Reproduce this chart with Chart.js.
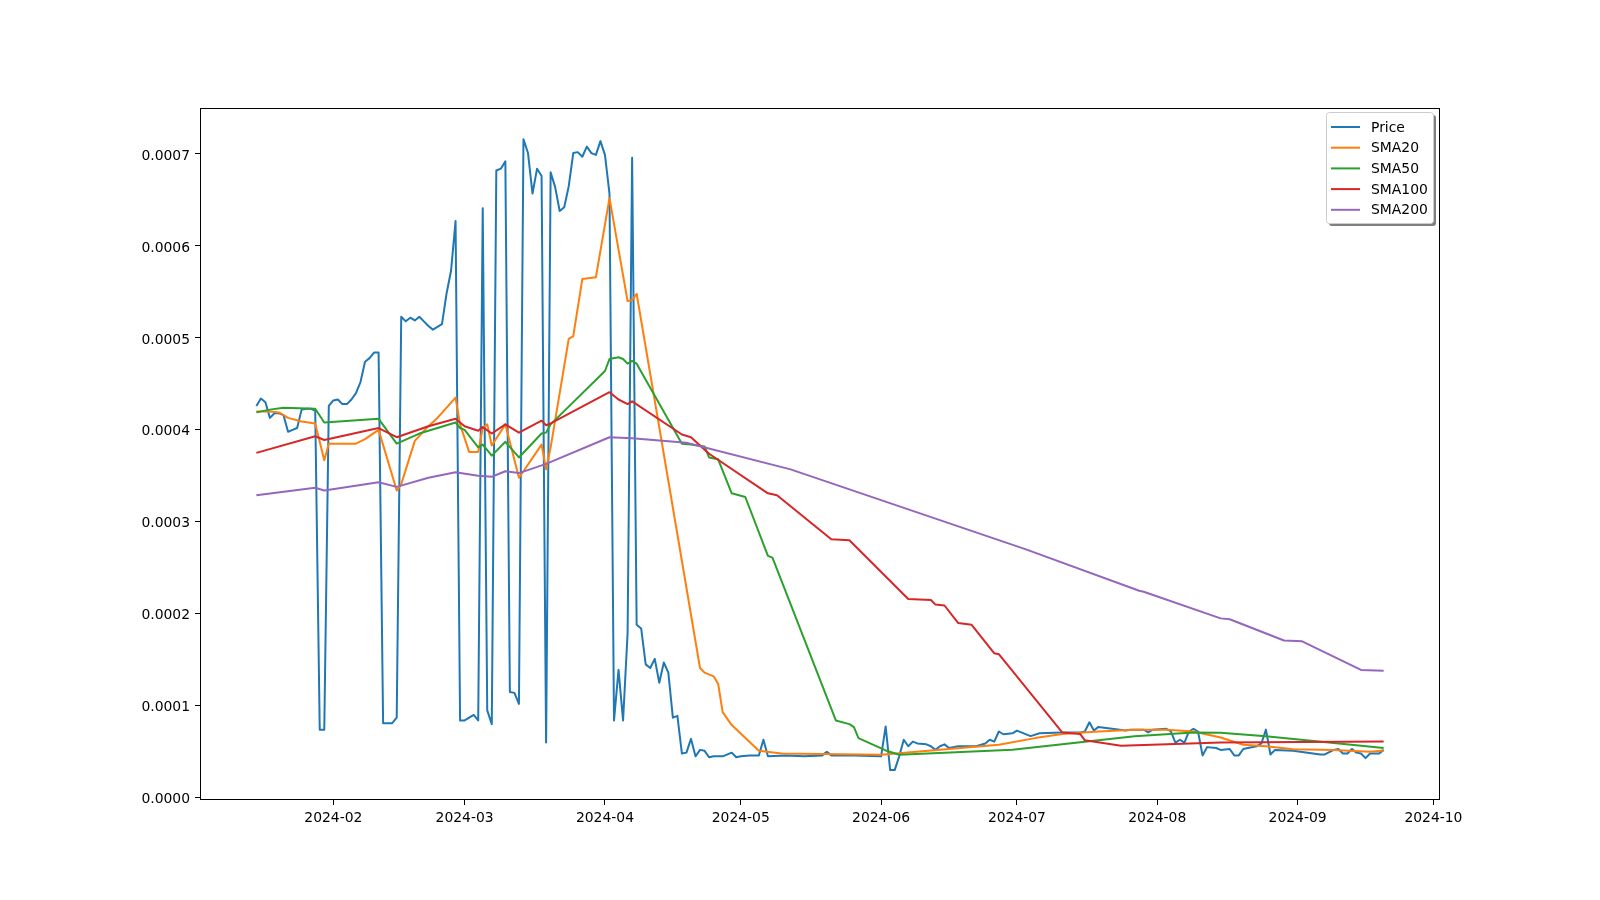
<!DOCTYPE html>
<html>
<head>
<meta charset="utf-8">
<script src="https://cdn.jsdelivr.net/npm/chart.js@4.4.1/dist/chart.umd.min.js"></script>
<style>
  html, body { margin: 0; padding: 0; background: #fff; }
</style>
</head>
<body>
<canvas id="smaChart" width="1600" height="900"></canvas>
<script>
// price, one value per listed day
const priceDates = [
  '2024-01-15','2024-01-16','2024-01-17','2024-01-18','2024-01-19','2024-01-20','2024-01-21','2024-01-22','2024-01-23','2024-01-24','2024-01-25','2024-01-26','2024-01-27','2024-01-28','2024-01-29','2024-01-30','2024-01-31',
  '2024-02-01','2024-02-02','2024-02-03','2024-02-04','2024-02-05','2024-02-06','2024-02-07','2024-02-08','2024-02-09','2024-02-10','2024-02-11','2024-02-12','2024-02-13','2024-02-14','2024-02-15','2024-02-16','2024-02-17','2024-02-18','2024-02-19','2024-02-20','2024-02-21','2024-02-22','2024-02-23','2024-02-24','2024-02-25','2024-02-26','2024-02-27','2024-02-28','2024-02-29',
  '2024-03-01','2024-03-02','2024-03-03','2024-03-04','2024-03-05','2024-03-06','2024-03-07','2024-03-08','2024-03-09','2024-03-10','2024-03-11','2024-03-12','2024-03-13','2024-03-14','2024-03-15','2024-03-16','2024-03-17','2024-03-18','2024-03-19','2024-03-20','2024-03-21','2024-03-22','2024-03-23','2024-03-24','2024-03-25','2024-03-26','2024-03-27','2024-03-28','2024-03-29','2024-03-30','2024-03-31',
  '2024-04-01','2024-04-02','2024-04-03','2024-04-04','2024-04-05','2024-04-06','2024-04-07','2024-04-08','2024-04-09','2024-04-10','2024-04-11','2024-04-12','2024-04-13','2024-04-14','2024-04-15','2024-04-16','2024-04-17','2024-04-18','2024-04-19','2024-04-20','2024-04-21','2024-04-22','2024-04-23','2024-04-24','2024-04-25','2024-04-27','2024-04-29','2024-04-30',
  '2024-05-01','2024-05-03','2024-05-05','2024-05-06','2024-05-07','2024-05-11','2024-05-15','2024-05-19','2024-05-20','2024-05-21','2024-05-26',
  '2024-06-01','2024-06-02','2024-06-03','2024-06-04','2024-06-05','2024-06-06','2024-06-07','2024-06-08','2024-06-09','2024-06-11','2024-06-12','2024-06-13','2024-06-14','2024-06-15','2024-06-16','2024-06-18','2024-06-22','2024-06-24','2024-06-25','2024-06-26','2024-06-27','2024-06-28','2024-06-30',
  '2024-07-01','2024-07-04','2024-07-06','2024-07-11','2024-07-15','2024-07-16','2024-07-17','2024-07-18','2024-07-19','2024-07-22','2024-07-25','2024-07-26','2024-07-29','2024-07-30','2024-07-31',
  '2024-08-03','2024-08-04','2024-08-05','2024-08-06','2024-08-07','2024-08-08','2024-08-09','2024-08-10','2024-08-11','2024-08-12','2024-08-14','2024-08-15','2024-08-17','2024-08-18','2024-08-19','2024-08-20','2024-08-21','2024-08-23','2024-08-24','2024-08-25','2024-08-26','2024-08-27','2024-08-31',
  '2024-09-06','2024-09-07','2024-09-09','2024-09-10','2024-09-11','2024-09-12','2024-09-13','2024-09-14','2024-09-15','2024-09-16','2024-09-17','2024-09-19','2024-09-20'
];
const priceValues = [
  0.000426,0.000434,0.00043,0.000413,0.000418,0.000418,0.000416,0.000398,0.0004,0.000402,0.000422,0.000423,0.000423,0.000421,0.000074,0.000074,0.000426,
  0.000432,0.000433,0.000428,0.000428,0.000433,0.00044,0.000452,0.000474,0.000478,0.000484,0.000484,0.000081,0.000081,0.000081,0.000087,0.000523,0.000518,0.000522,0.000519,0.000523,0.000518,0.000513,0.000509,0.000512,0.000515,0.000548,0.000573,0.000627,0.000084,
  0.000084,0.000087,0.00009,0.000084,0.000641,0.000095,0.00008,0.000682,0.000684,0.000692,0.000115,0.000114,0.000102,0.000716,0.000701,0.000657,0.000684,0.000676,0.00006,0.00068,0.000664,0.000638,0.000642,0.000665,0.000701,0.000702,0.000697,0.000708,0.000701,0.000699,0.000714,
  0.000699,0.000657,0.000084,0.000139,0.000084,0.000179,0.000696,0.000188,0.000184,0.000145,0.000141,0.000151,0.000125,0.000147,0.000136,0.000087,0.000089,0.000048,0.000049,0.000064,0.000045,0.000052,0.000051,0.000044,0.000045,0.000045,0.000049,0.000044,
  0.000045,0.000046,0.000046,0.000063,0.000045,0.000046,0.000045,0.000046,0.00005,0.000046,0.000046,
  0.000045,0.0000775,0.00003,0.00003,0.000045,0.000063,0.000056,0.000061,0.000059,0.000058,0.000056,0.000052,0.000056,0.000058,0.000054,0.000056,0.000056,0.000059,0.000063,0.000061,0.000072,0.000069,0.00007,
  0.000073,0.000067,0.00007,0.000071,0.000071,0.000072,0.000082,0.000073,0.000077,0.000075,0.000073,0.000074,0.000074,0.000071,0.000074,
  0.000075,0.000072,0.00006,0.000063,0.00006,0.000072,0.000075,0.000072,0.000046,0.000055,0.000054,0.000052,0.000053,0.000046,0.000046,0.000053,0.000054,0.000056,0.000059,0.000074,0.000047,0.000052,0.000051,
  0.000047,0.000047,0.000052,0.000053,0.000048,0.000048,0.000053,0.000049,0.000048,0.000043,0.000048,0.000048,0.000052
];

const sma20Dates = [
  '2024-01-15','2024-01-18','2024-01-20','2024-01-22','2024-01-25','2024-01-28','2024-01-30','2024-01-31',
  '2024-02-06','2024-02-08','2024-02-11','2024-02-15','2024-02-16','2024-02-19','2024-02-22','2024-02-24','2024-02-28','2024-02-29',
  '2024-03-02','2024-03-04','2024-03-05','2024-03-06','2024-03-07','2024-03-10','2024-03-13','2024-03-14','2024-03-18','2024-03-19','2024-03-20','2024-03-24','2024-03-25','2024-03-27','2024-03-30',
  '2024-04-02','2024-04-06','2024-04-07','2024-04-08','2024-04-22','2024-04-23','2024-04-25','2024-04-26','2024-04-27','2024-04-29',
  '2024-05-05','2024-05-10','2024-06-01','2024-06-27','2024-07-05','2024-07-11','2024-07-19','2024-07-27',
  '2024-08-03','2024-08-09','2024-08-15','2024-08-20','2024-08-25','2024-08-31','2024-09-09','2024-09-17','2024-09-20'
];
const sma20Values = [
  0.00042,0.00042,0.000419,0.000413,0.000409,0.000407,0.000367,0.000385,
  0.000385,0.00039,0.0004,0.000334,0.000341,0.000388,0.000404,0.000413,0.000435,0.000406,
  0.000376,0.000376,0.000402,0.000406,0.000383,0.000406,0.000348,0.000355,0.000384,0.000357,0.000381,0.000499,0.000502,0.000564,0.000566,
  0.000652,0.00054,0.000541,0.000548,0.000141,0.000136,0.000132,0.000124,0.000093,0.000079,
  0.000051,0.000048,0.0000467,0.0000576,0.0000648,0.0000692,0.0000721,0.0000739,
  0.0000739,0.000072,0.0000655,0.0000576,0.000056,0.0000528,0.000052,0.00005,0.0000514
];

const sma50Dates = [
  '2024-01-15','2024-01-18','2024-01-21','2024-01-28','2024-01-30',
  '2024-02-11','2024-02-15','2024-02-20','2024-02-24','2024-02-28','2024-02-29',
  '2024-03-01','2024-03-04','2024-03-05','2024-03-07','2024-03-10','2024-03-13','2024-03-18','2024-03-19','2024-03-20',
  '2024-04-01','2024-04-02','2024-04-04','2024-04-05','2024-04-06','2024-04-07','2024-04-08','2024-04-18','2024-04-20','2024-04-23','2024-04-24','2024-04-26','2024-04-29',
  '2024-05-02','2024-05-07','2024-05-08','2024-05-22','2024-05-25','2024-05-26','2024-05-27',
  '2024-06-02','2024-06-05','2024-06-30','2024-07-12','2024-07-27','2024-08-09','2024-08-15','2024-08-25','2024-09-09','2024-09-20'
];
const sma50Values = [
  0.000419,0.000422,0.000424,0.000423,0.000408,
  0.000412,0.000385,0.000396,0.000402,0.000408,0.000402,
  0.0004,0.000381,0.000384,0.000372,0.000387,0.00037,0.000396,0.000397,0.000406,
  0.000464,0.000477,0.000479,0.000477,0.000472,0.000475,0.000472,0.000385,0.000384,0.000382,0.00037,0.000368,0.000331,
  0.000327,0.000263,0.000261,0.000084,0.00008,0.0000767,0.0000648,
  0.0000514,0.0000467,0.0000521,0.0000587,0.0000667,0.000071,0.0000705,0.0000667,0.0000594,0.000054
];

const sma100Dates = [
  '2024-01-15','2024-01-28','2024-01-30',
  '2024-02-11','2024-02-15','2024-02-22','2024-02-28',
  '2024-03-01','2024-03-04','2024-03-05','2024-03-07','2024-03-10','2024-03-13','2024-03-18','2024-03-19','2024-03-20',
  '2024-04-02','2024-04-04','2024-04-06','2024-04-07','2024-04-18','2024-04-20','2024-04-24',
  '2024-05-07','2024-05-09','2024-05-21','2024-05-25',
  '2024-06-07','2024-06-12','2024-06-13','2024-06-15','2024-06-18','2024-06-21','2024-06-26','2024-06-27',
  '2024-07-11','2024-07-15','2024-07-16','2024-07-24','2024-08-15','2024-09-20'
];
const sma100Values = [
  0.000375,0.000393,0.000389,
  0.000402,0.000392,0.000404,0.000412,
  0.000404,0.000399,0.000403,0.000396,0.000406,0.000397,0.00041,0.000405,0.000407,
  0.000441,0.000433,0.000428,0.000431,0.000395,0.000392,0.000374,
  0.000331,0.000329,0.000281,0.00028,
  0.000216,0.000215,0.00021,0.000209,0.00019,0.000188,0.000157,0.000156,
  0.000071,0.0000692,0.0000624,0.0000566,0.00006,0.0000612
];

const sma200Dates = [
  '2024-01-15','2024-01-28','2024-01-30','2024-02-11','2024-02-15','2024-02-22','2024-02-28',
  '2024-03-04','2024-03-07','2024-03-10','2024-03-13','2024-03-19','2024-04-02','2024-04-07','2024-04-19',
  '2024-05-12','2024-07-03','2024-07-28','2024-07-29','2024-08-15','2024-08-17','2024-08-29','2024-09-02','2024-09-15','2024-09-20'
];
const sma200Values = [
  0.000329,0.000337,0.000334,0.000343,0.000338,0.000348,0.000354,
  0.00035,0.000349,0.000355,0.000353,0.000363,0.000392,0.000391,0.000386,
  0.000357,0.00027,0.000225,0.000224,0.000195,0.000194,0.000171,0.00017,0.000139,0.000138
];

const monthTicks = ['2024-02-01','2024-03-01','2024-04-01','2024-05-01','2024-06-01','2024-07-01','2024-08-01','2024-09-01','2024-10-01'];
const valueTicks = [0, 0.0001, 0.0002, 0.0003, 0.0004, 0.0005, 0.0006, 0.0007];

// x axis works in days since 2024-01-01
const dayOf = s => (Date.parse(s) - Date.parse('2024-01-01')) / 864e5;
const points = (dates, values) => dates.map((d, i) => ({ x: dayOf(d), y: values[i] }));

const series = [
  { label: 'Price',  data: points(priceDates, priceValues),   color: '#1f77b4' },
  { label: 'SMA20',  data: points(sma20Dates, sma20Values),   color: '#ff7f0e' },
  { label: 'SMA50',  data: points(sma50Dates, sma50Values),   color: '#2ca02c' },
  { label: 'SMA100', data: points(sma100Dates, sma100Values), color: '#d62728' },
  { label: 'SMA200', data: points(sma200Dates, sma200Values), color: '#9467bd' }
];

const FONT = 'DejaVu Sans, sans-serif';

// matplotlib style frame + legend with shadow
const frameAndLegend = {
    id: 'frameAndLegend',
    afterDatasetsDraw(chart) {
        const { ctx, chartArea: a } = chart;
        ctx.save();
        ctx.strokeStyle = '#000';
        ctx.lineWidth = 1;
        ctx.strokeRect(Math.round(a.left) + 0.5, Math.round(a.top) + 0.5,
                       Math.round(a.right - a.left) - 1, Math.round(a.bottom - a.top) - 1);

        const w = 107, h = 111;
        const x = a.right - 7 - w, y = a.top + 4;
        ctx.fillStyle = 'rgba(0,0,0,0.5)';
        ctx.beginPath(); ctx.roundRect(x + 3, y + 3, w, h, 3); ctx.fill();
        ctx.fillStyle = '#fff';
        ctx.strokeStyle = '#cccccc';
        ctx.beginPath(); ctx.roundRect(x + 0.5, y + 0.5, w, h, 3); ctx.fill(); ctx.stroke();

        ctx.font = '13.9px ' + FONT;
        ctx.textBaseline = 'middle';
        ctx.lineWidth = 2;
        chart.data.datasets.forEach((ds, i) => {
            const ry = y + 16 + i * 20.7;
            ctx.strokeStyle = ds.borderColor;
            ctx.beginPath(); ctx.moveTo(x + 5, ry - 1); ctx.lineTo(x + 34, ry - 1); ctx.stroke();
            ctx.fillStyle = '#000';
            ctx.fillText(ds.label, x + 45, ry);
        });
        ctx.restore();
    }
};

const ctx = document.getElementById('smaChart').getContext('2d');
new Chart(ctx, {
    type: 'line',
    data: {
        datasets: series.map((s, i) => ({
            label: s.label,
            data: s.data,
            borderColor: s.color,
            backgroundColor: s.color,
            borderWidth: 2,
            borderJoinStyle: 'round',
            pointRadius: 0,
            tension: 0,
            fill: false,
            order: series.length - i
        }))
    },
    options: {
        responsive: false,
        animation: false,
        events: [],
        layout: { padding: { left: 0, right: 160, top: 108, bottom: 0 } },
        plugins: { legend: { display: false }, tooltip: { enabled: false } },
        scales: {
            x: {
                type: 'linear',
                min: 1.55,
                max: 275.45,
                border: { display: false },
                grid: { drawOnChartArea: false, drawTicks: true, tickLength: 5, tickColor: '#000', tickWidth: 1 },
                ticks: {
                    color: '#000',
                    font: { family: FONT, size: 13.9 },
                    padding: 5,
                    maxRotation: 0,
                    autoSkip: false,
                    callback: (v, i) => monthTicks[i] ? monthTicks[i].slice(0, 7) : ''
                },
                afterBuildTicks: scale => { scale.ticks = monthTicks.map(s => ({ value: dayOf(s) })); },
                afterFit: scale => { scale.height = 100; }
            },
            y: {
                min: -0.0000025,
                max: 0.00075,
                border: { display: false },
                grid: { drawOnChartArea: false, drawTicks: true, tickLength: 5, tickColor: '#000', tickWidth: 1 },
                ticks: {
                    color: '#000',
                    font: { family: FONT, size: 13.9 },
                    padding: 5,
                    labelOffset: 2,
                    callback: v => v.toFixed(4)
                },
                afterBuildTicks: scale => { scale.ticks = valueTicks.map(v => ({ value: v })); },
                afterFit: scale => { scale.width = 200; }
            }
        }
    },
    plugins: [frameAndLegend]
});
</script>
</body>
</html>
